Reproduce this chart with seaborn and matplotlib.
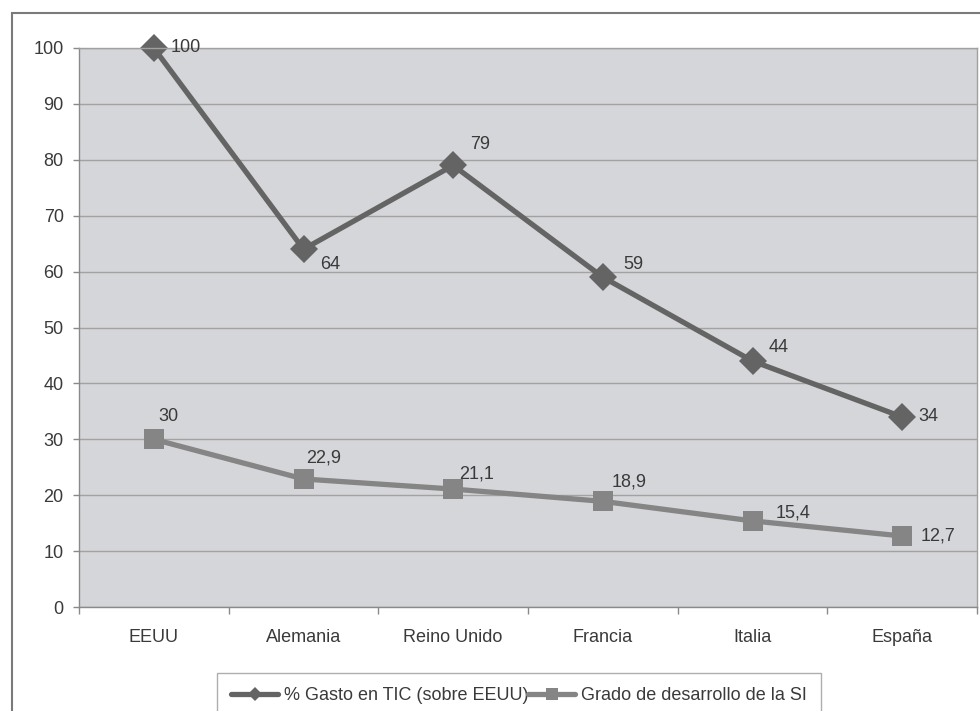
import numpy as np
import pandas as pd
import matplotlib
matplotlib.use("Agg")
import matplotlib.pyplot as plt
import seaborn as sns
from matplotlib.lines import Line2D
from matplotlib.patches import Rectangle

sns.set_style("white")
plt.rcParams["font.family"] = ["Liberation Sans", "DejaVu Sans"]

# -----------------------------
# Data
# -----------------------------
paises = ["EEUU", "Alemania", "Reino Unido", "Francia", "Italia", "España"]
gasto_tic = [100, 64, 79, 59, 44, 34]
grado_si = [30, 22.9, 21.1, 18.9, 15.4, 12.7]
gasto_labels = ["100", "64", "79", "59", "44", "34"]
grado_labels = ["30", "22,9", "21,1", "18,9", "15,4", "12,7"]
serie_1 = "% Gasto en TIC (sobre EEUU)"
serie_2 = "Grado de desarrollo de la SI"

# label offsets in pixels (dx, dy), like the Excel label placement
off_1 = [(17, 0), (17, -15), (17, 21), (20, 13), (16, 14), (16, 0)]
off_2 = [(5, 23), (3, 21), (6, 15), (9, 19), (23, 8), (18, 0)]

df = pd.DataFrame({"pais": paises, "gasto": gasto_tic, "grado": grado_si})

c1 = "#646464"
c2 = "#858585"
txt = "#3a3a3a"
fs = 13

fig = plt.figure(figsize=(9.8, 7.11), dpi=100)
ax = fig.add_axes([79 / 980, 104 / 711, 898 / 980, 559 / 711])
ax.set_facecolor("#d5d6d9")

sns.lineplot(data=df, x="pais", y="gasto", ax=ax, color=c1, lw=3.8,
             marker="D", markersize=14, markeredgewidth=0, sort=False, clip_on=False)
sns.lineplot(data=df, x="pais", y="grado", ax=ax, color=c2, lw=3.8,
             marker="s", markersize=15, markeredgewidth=0, sort=False, clip_on=False)

# data labels
for i, (lab, (dx, dy)) in enumerate(zip(gasto_labels, off_1)):
    ax.annotate(lab, (i, gasto_tic[i]), xytext=(dx, dy), textcoords="offset pixels",
                ha="left", va="center", fontsize=fs, color=txt)
for i, (lab, (dx, dy)) in enumerate(zip(grado_labels, off_2)):
    ax.annotate(lab, (i, grado_si[i]), xytext=(dx, dy), textcoords="offset pixels",
                ha="left", va="center", fontsize=fs, color=txt)

ax.set_xlim(-0.5, len(paises) - 0.5)
ax.set_ylim(0, 100)
ax.set_yticks(np.arange(0, 101, 10))
ax.set_xticks(range(len(paises)))
ax.set_xticklabels(paises)
ax.set_xticks(np.arange(-0.5, len(paises), 1), minor=True)
ax.yaxis.grid(True, color="#a2a2a2", lw=1)
ax.set_axisbelow(True)
ax.set_xlabel("")
ax.set_ylabel("")

for s in ax.spines.values():
    s.set_color("#a0a0a0")
    s.set_linewidth(1)
ax.spines["left"].set_color("#8a8a8a")
ax.spines["bottom"].set_color("#8a8a8a")

ax.tick_params(axis="y", left=True, length=4, width=1, color="#8a8a8a",
               labelsize=fs, labelcolor=txt, pad=7)
ax.tick_params(axis="x", which="major", bottom=True, length=0, labelsize=fs,
               labelcolor=txt, pad=16)
ax.tick_params(axis="x", which="minor", bottom=True, length=5, width=1, color="#8a8a8a")

# legend at the bottom
h1 = Line2D([], [], color=c1, lw=3.8, marker="D", markersize=7, markeredgewidth=0)
h2 = Line2D([], [], color=c2, lw=3.8, marker="s", markersize=8, markeredgewidth=0)
leg = fig.legend([h1, h2], [serie_1, serie_2], loc="upper left",
                 bbox_to_anchor=(217 / 980, 38 / 711), ncol=2, fontsize=fs,
                 frameon=True, fancybox=False, borderpad=0.8, handlelength=2.6,
                 handletextpad=0.3, columnspacing=0.0, borderaxespad=0)
leg.get_frame().set_edgecolor("#9a9a9a")
leg.get_frame().set_linewidth(1)
for t in leg.get_texts():
    t.set_color(txt)

# outer chart border
fig.patches.append(Rectangle((12 / 980, -0.2), 1.2, 0.2 + (711 - 13) / 711,
                             transform=fig.transFigure, fill=False,
                             edgecolor="#7a7a7a", lw=1.5))

plt.savefig("out.png", dpi=100)
plt.close()
